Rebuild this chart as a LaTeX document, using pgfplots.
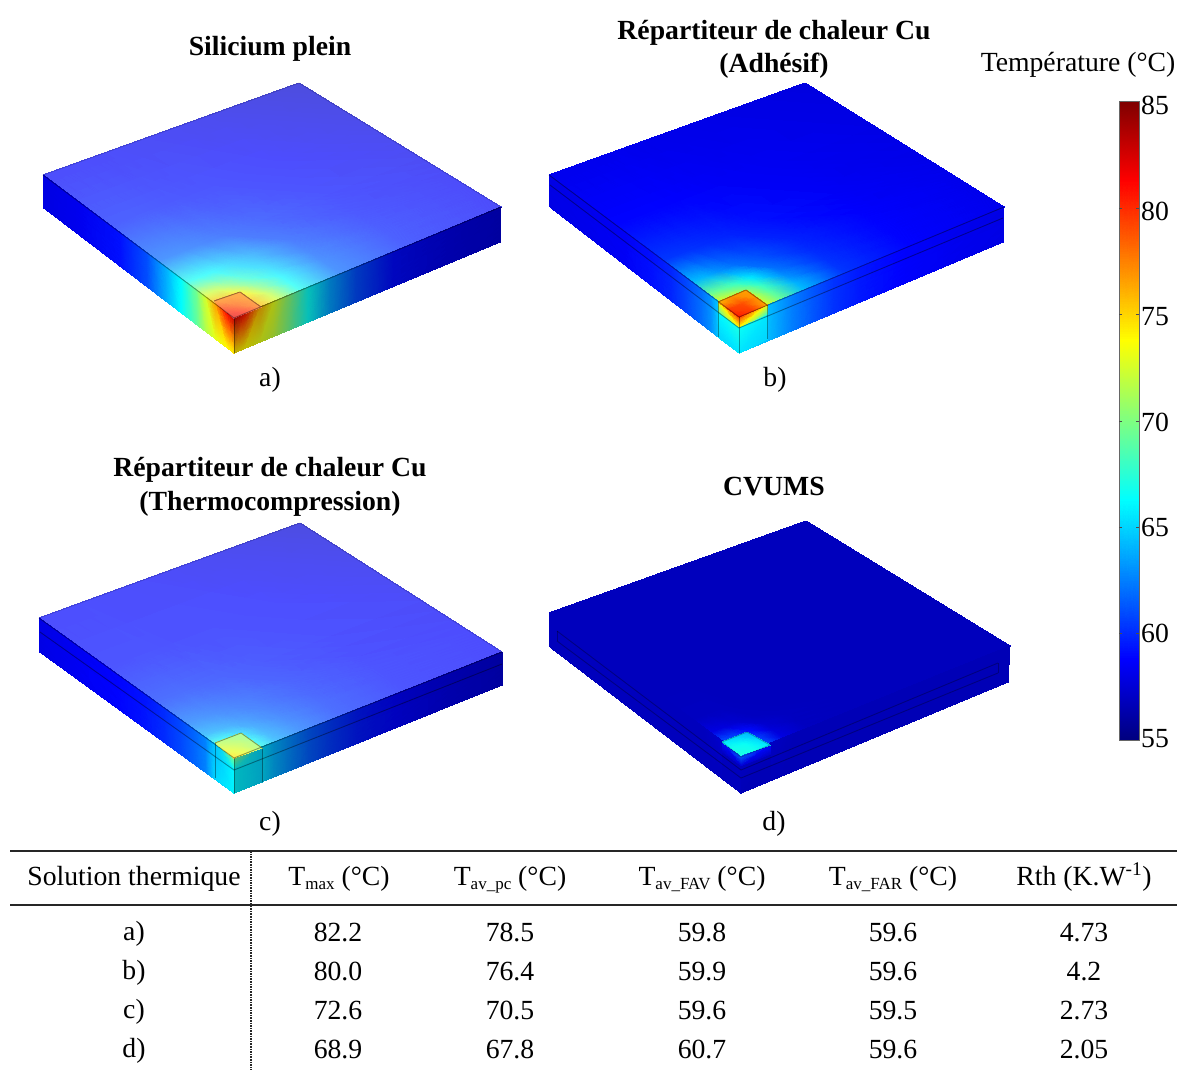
\documentclass[border=0pt]{standalone}
\usepackage{fontspec}
\setmainfont{Liberation Serif}
\usepackage{pgfplots}
\usepackage{pgfplotstable}
\pgfplotsset{compat=1.18}
\pgfmathdeclarefunction{jr}{1}{\pgfmathparse{min(1,max(0,min(4*(#1-55)/30-1.5,4.5-4*(#1-55)/30)))}}
\pgfmathdeclarefunction{jg}{1}{\pgfmathparse{min(1,max(0,min(4*(#1-55)/30-0.5,3.5-4*(#1-55)/30)))}}
\pgfmathdeclarefunction{jb}{1}{\pgfmathparse{min(1,max(0,min(4*(#1-55)/30+0.5,2.5-4*(#1-55)/30)))}}
\pgfplotsset{
 jetc/.style={point meta={symbolic={jr(\thisrow{#1}),jg(\thisrow{#1}),jb(\thisrow{#1})}}},
 litc/.style={point meta={symbolic={.3+.7*jr(\thisrow{#1}),.3+.7*jg(\thisrow{#1}),.3+.7*jb(\thisrow{#1})}}},
 dkc/.style={point meta={symbolic={.75*jr(\thisrow{#1}),.75*jg(\thisrow{#1}),.75*jb(\thisrow{#1})}}},
 fc/.style n args={4}{surf,shader=interp,mesh/rows=#2,mesh/cols=#3,mesh/color input=explicit mathparse,#1c=#4},
 edg/.style={black,opacity=.38,line width=.9pt},
 soft/.style={black,opacity=.18,line width=.8pt},
}
\newcommand{\bl}[4]{((1-\thisrow{s})*(1-\thisrow{t})*#1+\thisrow{s}*(1-\thisrow{t})*#2+(1-\thisrow{s})*\thisrow{t}*#3+\thisrow{s}*\thisrow{t}*#4)}
\pgfplotstableread{
s t Ta Tb Tc Td
0 0 78 75 68 62
0 .05 78 75 68 62
0 .1 76 73 67 61
0 .16 72.5 69.5 63.8 57.9
0 .25 66.8 64.2 62 56.9
0 .4 61.8 60.3 60.2 56.8
0 .65 59.6 58.8 59.1 56.8
0 1 58.6 58.2 58.7 56.8
.05 0 78 75 68 62
.05 .05 77 74 67.8 61.5
.05 .1 75.5 72.5 66.5 60.5
.05 .16 72 69 63.5 57.7
.05 .25 66.5 64 61.9 56.9
.05 .4 61.8 60.3 60.2 56.8
.05 .65 59.6 58.8 59.1 56.8
.05 1 58.6 58.2 58.7 56.8
.1 0 76 73 67 61
.1 .05 75.5 72.5 66.5 60.5
.1 .1 74 71 65 59
.1 .16 70 68 63 57.3
.1 .25 66 63 61.6 56.9
.1 .4 61.7 60.2 60.2 56.8
.1 .65 59.6 58.8 59.1 56.8
.1 1 58.6 58.2 58.7 56.8
.16 0 72.5 69.5 63.8 57.9
.16 .05 72 69 63.5 57.7
.16 .1 70 68 63 57.3
.16 .16 67.5 65.5 62.2 56.9
.16 .25 65 62 61.2 56.8
.16 .4 61.4 60 60 56.8
.16 .65 59.5 58.8 59.1 56.8
.16 1 58.6 58.2 58.7 56.8
.25 0 66.8 64.2 62 56.9
.25 .05 66.5 64 61.9 56.9
.25 .1 66 63 61.6 56.9
.25 .16 65 62 61.2 56.8
.25 .25 63.5 61 60.7 56.8
.25 .4 60.8 59.7 59.8 56.8
.25 .65 59.3 58.7 59 56.8
.25 1 58.5 58.2 58.6 56.8
.4 0 61.8 60.3 60.2 56.8
.4 .05 61.8 60.3 60.2 56.8
.4 .1 61.7 60.2 60.2 56.8
.4 .16 61.4 60 60 56.8
.4 .25 60.8 59.7 59.8 56.8
.4 .4 60 59.1 59.4 56.8
.4 .65 59.1 58.5 59 56.8
.4 1 58.3 58.1 58.5 56.8
.65 0 59.6 58.8 59.1 56.8
.65 .05 59.6 58.8 59.1 56.8
.65 .1 59.6 58.8 59.1 56.8
.65 .16 59.5 58.8 59.1 56.8
.65 .25 59.3 58.7 59 56.8
.65 .4 59.1 58.5 59 56.8
.65 .65 58.7 58.3 58.8 56.8
.65 1 58 58 58.2 56.8
1 0 58.6 58.2 58.7 56.8
1 .05 58.6 58.2 58.7 56.8
1 .1 58.6 58.2 58.7 56.8
1 .16 58.6 58.2 58.7 56.8
1 .25 58.5 58.2 58.6 56.8
1 .4 58.3 58.1 58.5 56.8
1 .65 58 58 58.2 56.8
1 1 57.3 57.8 57.5 56.8
}\toptab
\pgfplotstableread{
s t Ta Tb Tc Td
0 0 82 80.5 74.5 67
0 .5 80.5 79.5 73 66.8
0 1 78 76.5 71 65.5
.5 0 80 79.5 73 66.8
.5 .5 78.5 79 72 66.5
.5 1 77.5 77 70.8 65
1 0 77.5 76 71.5 65.5
1 .5 77.2 77 70.8 65
1 1 77 76.5 70.5 64
}\chiptab
% side faces: s along the edge, t down the face; L = left face, R = right face
\pgfplotstableread{
s t La Lb Lc Ld Ra Rb Rc Rd
0 0 83 65 65 57.3 83 65 66 57
.04 0 81 65 65 57.3 81 65 66 57
.1 0 76.5 65 64.5 57.3 76 64.5 65.5 57
.15 0 72.5 63 62.5 57 73 63.5 64 56.8
.2 0 69.5 62 61.8 56.8 70.5 62.5 63 56.6
.28 0 66.2 60.8 60.8 56.8 66.5 61.3 61.5 56.6
.36 0 63.8 59.8 60 56.8 63.5 60.2 60.5 56.6
.46 0 61 59.2 59.3 56.8 61 59.4 59.5 56.6
.6 0 59.2 58.5 58.8 56.8 59 58.8 58.8 56.6
.8 0 58.3 58.2 58.4 56.8 58 58.3 58 56.6
1 0 57.9 58 58 56.8 57.5 58 57.5 56.6
0 1 74.5 65 65 57 74.5 65 66 56.8
.04 1 74 65 65 57 74 65 66 56.8
.1 1 73 65 65 56.8 73 64.5 65.5 56.6
.15 1 71.5 63 62.5 56.8 72 63.5 64 56.6
.2 1 69 62 61.8 56.8 70 62.5 63 56.6
.28 1 66.2 60.8 60.8 56.8 66.5 61.3 61.5 56.6
.36 1 63.8 59.8 60 56.8 63.5 60.2 60.5 56.6
.46 1 61 59.2 59.3 56.8 61 59.4 59.5 56.6
.6 1 59.2 58.5 58.8 56.8 59 58.8 58.8 56.6
.8 1 58.3 58.2 58.4 56.8 58 58.3 58 56.6
1 1 57.9 58 58 56.8 57.5 58 57.5 56.6
}\sidetab
% block under the chip, top layer then lower layer
\pgfplotstableread{
s t Lb Rb Lc Rc Ld Rd
0 0 80 80 70 70 62 62
1 0 74 74 64.5 65 59 59
0 .31 74 74 67 67 57.5 57.5
1 .31 69 68 64.5 65 57 57
0 .32 67 66.5 66 66 56.8 56.8
1 .32 66 65.5 64.5 65 56.8 56.6
0 1 65.5 65.5 66 66 56.8 56.6
1 1 65 65 65 65 56.8 56.6
}\blocktab
\pgfplotstableread{
x y T
1119 740 55
1139 740 55
1119 660.2 58.75
1139 660.2 58.75
1119 500.7 66.25
1139 500.7 66.25
1119 341.2 73.75
1139 341.2 73.75
1119 181.7 81.25
1139 181.7 81.25
1119 102 85
1139 102 85
}\cbartab
\newcommand{\tx}{\fontsize{27.7}{30}\selectfont}
\newcommand{\bx}{\fontsize{27.7}{30}\selectfont\bfseries}
\newcommand{\sbx}[1]{\raisebox{-4.5pt}{\fontsize{17}{20}\selectfont #1}}
\begin{document}
\begin{tikzpicture}
\useasboundingbox (0,0) rectangle (1177pt,1070pt);
\begin{axis}[
 at={(0,0)}, anchor=south west,
 scale only axis, width=1177pt, height=1070pt,
 xmin=0, xmax=1177, ymin=0, ymax=1070, y dir=reverse,
 axis lines=none, clip=false,
 every node/.append style={text=black!90},
]
% ---------- a
\addplot[fc={lit}{8}{8}{Ta}] table[x expr=\bl{234}{43}{501}{299},y expr=\bl{318}{175}{207}{83}]\toptab;
\addplot[fc={jet}{2}{11}{La}] table[x expr=\bl{234}{43}{234}{44},y expr=\bl{318}{175}{353}{208}]\sidetab;
\addplot[fc={dk}{2}{11}{Ra}] table[x expr=\bl{234}{501}{234}{500},y expr=\bl{318}{207}{353}{242}]\sidetab;
\addplot[fc={lit}{3}{3}{Ta}] table[x expr=\bl{234}{214}{261}{240},y expr=\bl{318}{301}{307}{292}]\chiptab;
\addplot[soft] coordinates {(43,175)(299,83)(501,207)};
\addplot[edg] coordinates {(43,175)(234,318)(501,207)};
\addplot[edg] coordinates {(234,318)(234,353)};
\addplot[edg] coordinates {(214,301)(240,292)(261,307)};
% ---------- b
\addplot[fc={jet}{8}{8}{Tb}] table[x expr=\bl{739}{549}{1004}{805},y expr=\bl{317}{175}{207}{83}]\toptab;
\addplot[fc={jet}{2}{11}{Lb}] table[x expr=\bl{739}{549}{739}{550},y expr=\bl{317}{175}{353}{207}]\sidetab;
\addplot[fc={jet}{2}{11}{Rb}] table[x expr=\bl{739}{1004}{739}{1003},y expr=\bl{317}{207}{353}{242}]\sidetab;
\addplot[fc={jet}{4}{2}{Lb}] table[x expr=\bl{739}{718}{739}{718},y expr=\bl{317}{302}{353}{337}]\blocktab;
\addplot[fc={jet}{4}{2}{Rb}] table[x expr=\bl{739}{767}{739}{767},y expr=\bl{317}{305}{353}{339}]\blocktab;
\addplot[fc={jet}{3}{3}{Tb}] table[x expr=\bl{739}{718}{767}{746},y expr=\bl{317}{302}{305}{290}]\chiptab;
\addplot[edg] coordinates {(549,175)(739,317)(1004,207)};
\addplot[edg] coordinates {(550,185)(739,328)(1003,218)};
\addplot[edg] coordinates {(718,302)(718,337)};
\addplot[edg] coordinates {(739,317)(739,353)};
\addplot[edg] coordinates {(767,305)(767,339)};
\addplot[edg] coordinates {(718,302)(746,290)(767,305)};
% ---------- c
\addplot[fc={lit}{8}{8}{Tc}] table[x expr=\bl{234}{39}{502}{300},y expr=\bl{758}{618}{652}{523}]\toptab;
\addplot[fc={jet}{2}{11}{Lc}] table[x expr=\bl{234}{39}{234}{40},y expr=\bl{758}{618}{793}{652}]\sidetab;
\addplot[fc={dk}{2}{11}{Rc}] table[x expr=\bl{234}{502}{234}{502},y expr=\bl{758}{652}{793}{685}]\sidetab;
\addplot[fc={jet}{4}{2}{Lc}] table[x expr=\bl{234}{215}{234}{215},y expr=\bl{758}{743}{793}{778}]\blocktab;
\addplot[fc={dk}{4}{2}{Rc}] table[x expr=\bl{234}{262}{234}{262},y expr=\bl{758}{748}{793}{782}]\blocktab;
\addplot[fc={lit}{3}{3}{Tc}] table[x expr=\bl{234}{215}{262}{241},y expr=\bl{758}{743}{748}{733}]\chiptab;
\addplot[soft] coordinates {(39,618)(300,523)(502,652)};
\addplot[edg] coordinates {(39,618)(234,758)(502,652)};
\addplot[edg] coordinates {(40,632)(234,770)(502,664)};
\addplot[edg] coordinates {(215,743)(215,778)};
\addplot[edg] coordinates {(234,758)(234,793)};
\addplot[edg] coordinates {(262,748)(262,782)};
\addplot[edg] coordinates {(215,743)(241,733)(262,748)};
% ---------- d
\addplot[fc={jet}{8}{8}{Td}] table[x expr=\bl{741}{549}{1010}{806},y expr=\bl{755}{613}{646}{521}]\toptab;
\addplot[fc={jet}{2}{11}{Ld}] table[x expr=\bl{741}{549}{741}{550},y expr=\bl{755}{613}{793}{647}]\sidetab;
\addplot[fc={jet}{2}{11}{Rd}] table[x expr=\bl{741}{1010}{741}{1008},y expr=\bl{755}{646}{793}{682}]\sidetab;
\addplot[fc={jet}{4}{2}{Ld}] table[x expr=\bl{741}{722}{741}{722},y expr=\bl{755}{742}{793}{778}]\blocktab;
\addplot[fc={jet}{4}{2}{Rd}] table[x expr=\bl{741}{770}{741}{770},y expr=\bl{755}{745}{793}{779}]\blocktab;
\addplot[fc={jet}{3}{3}{Td}] table[x expr=\bl{741}{722}{770}{747},y expr=\bl{755}{742}{745}{732}]\chiptab;
\addplot[edg,opacity=.3] coordinates {(557,631)(741,770)(998,663)};
\addplot[edg,opacity=.3] coordinates {(557,641)(741,778)(998,673)};
\addplot[edg,opacity=.3] coordinates {(557,631)(557,641)};
\addplot[edg,opacity=.3] coordinates {(998,663)(998,673)};
\addplot[edg,opacity=.25] coordinates {(741,757)(770,745)(747,732)(722,742)(741,757)};
% ---------- colour bar
\addplot[fc={jet}{6}{2}{T}] table[x=x,y=y]\cbartab;
\addplot[gray!80!black,line width=1pt] coordinates {(1119,102)(1139,102)(1139,740)(1119,740)(1119,102)};
\addplot[black!70,line width=.8pt] coordinates {(1119,208)(1122,208)};
\addplot[black!70,line width=.8pt] coordinates {(1136,208)(1139,208)};
\addplot[black!70,line width=.8pt] coordinates {(1119,314.7)(1122,314.7)};
\addplot[black!70,line width=.8pt] coordinates {(1136,314.7)(1139,314.7)};
\addplot[black!70,line width=.8pt] coordinates {(1119,421)(1122,421)};
\addplot[black!70,line width=.8pt] coordinates {(1136,421)(1139,421)};
\addplot[black!70,line width=.8pt] coordinates {(1119,527)(1122,527)};
\addplot[black!70,line width=.8pt] coordinates {(1136,527)(1139,527)};
\addplot[black!70,line width=.8pt] coordinates {(1119,633.7)(1122,633.7)};
\addplot[black!70,line width=.8pt] coordinates {(1136,633.7)(1139,633.7)};
\foreach \v/\yy in {85/114,80/220,75/325,70/431,65/536,60/642,55/747}{
 \edef\tmp{\noexpand\node[anchor=base west,inner sep=0pt,font=\noexpand\tx] at (axis cs:1141,\yy) {\v};}\tmp
}
% ---------- table rules
\addplot[black!85,line width=2pt] coordinates {(10,851)(1177,851)};
\addplot[black!85,line width=2pt] coordinates {(10,905)(1177,905)};
\addplot[black!85,line width=1.6pt,densely dotted] coordinates {(251,851)(251,1070)};
% ---------- text
\tikzset{tt/.style={anchor=base,inner sep=0pt,font=\tx},bb/.style={anchor=base,inner sep=0pt,font=\bx}}
\node[bb] at (axis cs:270,56) {Silicium plein};
\node[bb] at (axis cs:774,40) {Répartiteur de chaleur Cu};
\node[bb] at (axis cs:774,73) {(Adhésif)};
\node[bb] at (axis cs:270,476) {Répartiteur de chaleur Cu};
\node[bb] at (axis cs:270,510) {(Thermocompression)};
\node[bb] at (axis cs:774,495) {CVUMS};
\node[tt] at (axis cs:1078,72) {Température (°C)};
\node[tt] at (axis cs:270,386) {a)};
\node[tt] at (axis cs:775,386) {b)};
\node[tt] at (axis cs:270,830) {c)};
\node[tt] at (axis cs:774,830) {d)};
\node[tt] at (axis cs:134,885) {Solution thermique};
\node[tt] at (axis cs:339,885) {T\sbx{max} (°C)};
\node[tt] at (axis cs:510,885) {T\sbx{av\_pc} (°C)};
\node[tt] at (axis cs:702,885) {T\sbx{av\_FAV} (°C)};
\node[tt] at (axis cs:893,885) {T\sbx{av\_FAR} (°C)};
\node[tt] at (axis cs:1084,885) {Rth (K.W\textsuperscript{-1})};
\node[tt] at (axis cs:134,940) {a)};
\node[tt] at (axis cs:134,979) {b)};
\node[tt] at (axis cs:134,1018) {c)};
\node[tt] at (axis cs:134,1057) {d)};
\node[tt] at (axis cs:338,941) {82.2};
\node[tt] at (axis cs:338,980) {80.0};
\node[tt] at (axis cs:338,1019) {72.6};
\node[tt] at (axis cs:338,1058) {68.9};
\node[tt] at (axis cs:510,941) {78.5};
\node[tt] at (axis cs:510,980) {76.4};
\node[tt] at (axis cs:510,1019) {70.5};
\node[tt] at (axis cs:510,1058) {67.8};
\node[tt] at (axis cs:702,941) {59.8};
\node[tt] at (axis cs:702,980) {59.9};
\node[tt] at (axis cs:702,1019) {59.6};
\node[tt] at (axis cs:702,1058) {60.7};
\node[tt] at (axis cs:893,941) {59.6};
\node[tt] at (axis cs:893,980) {59.6};
\node[tt] at (axis cs:893,1019) {59.5};
\node[tt] at (axis cs:893,1058) {59.6};
\node[tt] at (axis cs:1084,941) {4.73};
\node[tt] at (axis cs:1084,980) {4.2};
\node[tt] at (axis cs:1084,1019) {2.73};
\node[tt] at (axis cs:1084,1058) {2.05};
\end{axis}
\end{tikzpicture}
\end{document}
